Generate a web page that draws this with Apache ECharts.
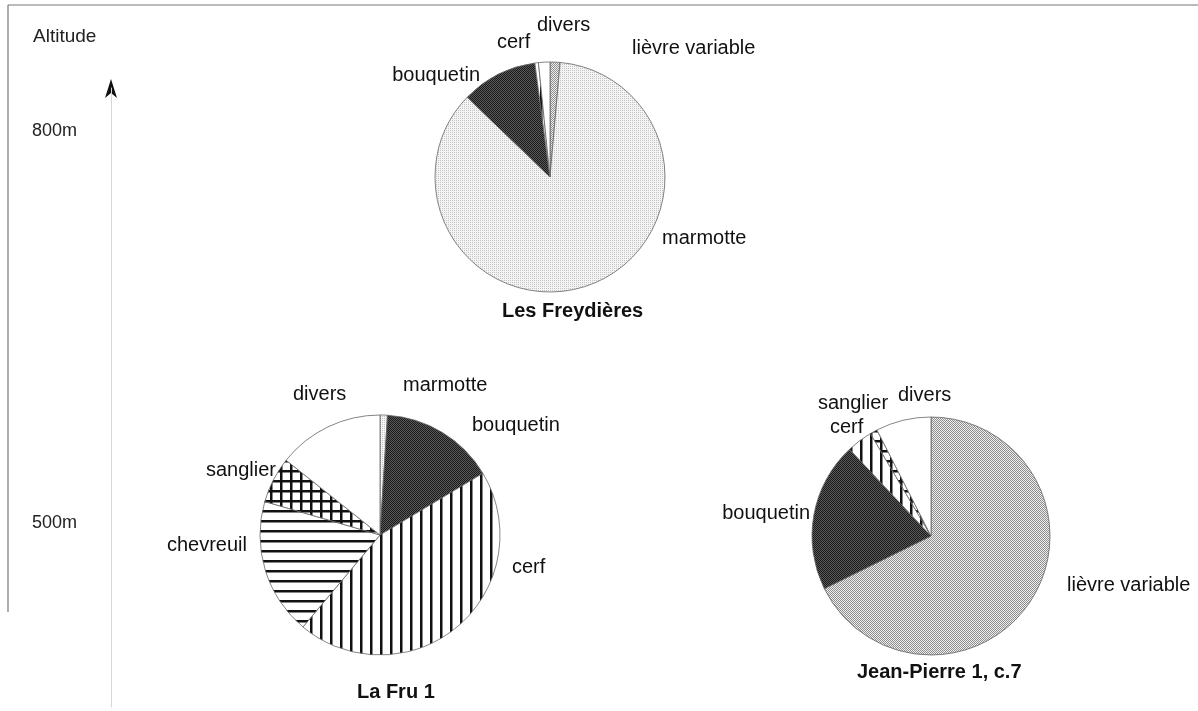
<!DOCTYPE html>
<html>
<head>
<meta charset="utf-8">
<title>Altitude</title>
<script src="https://cdn.jsdelivr.net/npm/echarts@6/dist/echarts.min.js"></script>
<style>
  html, body { margin: 0; padding: 0; background: #fff; }
  #chart { width: 1198px; height: 711px; }
</style>
</head>
<body>
<div id="chart"></div>
<script>
  // categories, clockwise from 12 o'clock
  var categories = ['lièvre variable', 'marmotte', 'bouquetin', 'cerf', 'chevreuil', 'sanglier', 'divers']
  // share of remains (%) per site
  var freydieres = [1.4, 85.8, 10.7, 0.5, 0, 0, 1.6]
  var laFru = [0, 1.0, 15.4, 44.7, 18.4, 6.2, 14.3]
  var jeanPierre = [67.7, 0, 20.3, 3.5, 0, 1.0, 7.5]
  var siteNames = ['Les Freydières', 'La Fru 1', 'Jean-Pierre 1, c.7']
  // altitude axis
  var altitudeTicks = [800, 500]

  var font = 'Liberation Sans, Arial, Helvetica, sans-serif'

  // small canvas tiles used as fill patterns
  function tile (w, h, draw) {
    var c = document.createElement('canvas')
    c.width = w
    c.height = h
    draw(c.getContext('2d'))
    return { image: c, repeat: 'repeat' }
  }
  function stipple (base, dot, dense) {
    return tile(2, 2, function (ctx) {
      ctx.fillStyle = base
      ctx.fillRect(0, 0, 2, 2)
      ctx.fillStyle = dot
      ctx.fillRect(0, 0, 1, 1)
      if (dense) ctx.fillRect(1, 1, 1, 1)
    })
  }
  var fills = {
    'lièvre variable': stipple('#eeeeee', '#8e8e8e', true),
    'marmotte': stipple('#f4f4f4', '#c4c4c4', false),
    'bouquetin': stipple('#5a5a5a', '#1a1a1a', true),
    'cerf': tile(10, 10, function (ctx) {
      ctx.fillStyle = '#fff'; ctx.fillRect(0, 0, 10, 10)
      ctx.fillStyle = '#111'; ctx.fillRect(0, 0, 2.5, 10)
    }),
    'chevreuil': tile(10, 10, function (ctx) {
      ctx.fillStyle = '#fff'; ctx.fillRect(0, 0, 10, 10)
      ctx.fillStyle = '#111'; ctx.fillRect(0, 0, 10, 2.5)
    }),
    'sanglier': tile(10, 10, function (ctx) {
      ctx.fillStyle = '#fff'; ctx.fillRect(0, 0, 10, 10)
      ctx.fillStyle = '#111'; ctx.fillRect(0, 0, 2.5, 10); ctx.fillRect(0, 0, 10, 2.5)
    }),
    'divers': '#ffffff'
  }

  // where each slice name is written: [x, middle y, align]
  var labelSpots = [
    { 'lièvre variable': [632, 48, 'left'], 'marmotte': [662, 238, 'left'], 'bouquetin': [480, 75, 'right'], 'cerf': [497, 42, 'left'], 'divers': [537, 25, 'left'] },
    { 'marmotte': [403, 385, 'left'], 'bouquetin': [472, 425, 'left'], 'cerf': [512, 567, 'left'], 'chevreuil': [247, 545, 'right'], 'sanglier': [276, 470, 'right'], 'divers': [293, 394, 'left'] },
    { 'lièvre variable': [1067, 585, 'left'], 'bouquetin': [810, 513, 'right'], 'cerf': [830, 427, 'left'], 'sanglier': [818, 403, 'left'], 'divers': [898, 395, 'left'] }
  ]

  function slices (values) {
    var out = []
    values.forEach(function (v, i) {
      if (v > 0) out.push({ name: categories[i], value: v, itemStyle: { color: fills[categories[i]] } })
    })
    return out
  }

  function pie (values, idx, center, radius) {
    var data = slices(values)
    return {
      type: 'pie',
      name: siteNames[idx],
      center: center,
      radius: radius,
      startAngle: 90,
      clockwise: true,
      animation: false,
      silent: true,
      avoidLabelOverlap: false,
      data: data,
      itemStyle: { borderColor: '#666', borderWidth: 0.8 },
      label: { show: true, position: 'outside', formatter: '{b}', color: '#111', fontFamily: font, fontSize: 20 },
      labelLine: { show: false },
      labelLayout: function (p) {
        var spot = labelSpots[idx][data[p.dataIndex].name]
        return { x: spot[0], y: spot[1], align: spot[2], verticalAlign: 'middle' }
      }
    }
  }

  var chart = echarts.init(document.getElementById('chart'))

  var titleStyle = { fontFamily: font, fontSize: 20, fontWeight: 'bold', color: '#111' }

  chart.setOption({
    backgroundColor: '#fff',
    title: [
      { text: 'Altitude', left: 33, top: 27, padding: 0, textStyle: { fontFamily: font, fontSize: 19, fontWeight: 'normal', color: '#222' } },
      { text: siteNames[0], left: 502, top: 301, padding: 0, textStyle: titleStyle },
      { text: siteNames[1], left: 357, top: 682, padding: 0, textStyle: titleStyle },
      { text: siteNames[2], left: 857, top: 662, padding: 0, textStyle: titleStyle }
    ],
    grid: { left: 111, width: 20, top: 88, bottom: 4 },
    xAxis: { type: 'value', show: false },
    yAxis: {
      type: 'value',
      min: 359,
      max: 833,
      axisLine: { show: true, onZero: false, lineStyle: { color: '#d6d6d6', width: 1 } },
      axisTick: { show: false },
      splitLine: { show: false },
      axisLabel: {
        customValues: altitudeTicks,
        formatter: '{value}m',
        align: 'left',
        margin: 79,
        color: '#222',
        fontFamily: font,
        fontSize: 18
      }
    },
    graphic: [
      { type: 'line', shape: { x1: 8, y1: 5, x2: 1198, y2: 5 }, style: { stroke: '#777', lineWidth: 1.2 } },
      { type: 'line', shape: { x1: 8, y1: 5, x2: 8, y2: 612 }, style: { stroke: '#777', lineWidth: 1.2 } },
      // arrow head on the altitude axis
      { type: 'polygon', shape: { points: [[111, 79], [105, 98], [111, 93], [117, 98]] }, style: { fill: '#111' } }
    ],
    series: [
      pie(freydieres, 0, [550, 177], 115),
      pie(laFru, 1, [380, 535], 120),
      pie(jeanPierre, 2, [931, 536], 119)
    ]
  })
</script>
</body>
</html>
